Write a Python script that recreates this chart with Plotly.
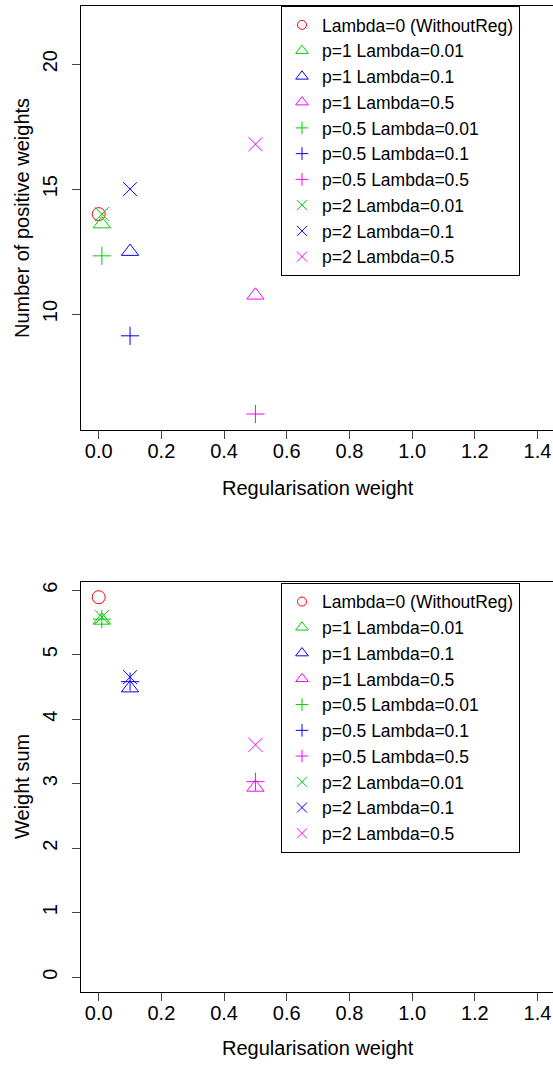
import plotly.graph_objects as go

# ---- data ----
labels = ["Lambda=0 (WithoutReg)", "p=1 Lambda=0.01", "p=1 Lambda=0.1", "p=1 Lambda=0.5",
          "p=0.5 Lambda=0.01", "p=0.5 Lambda=0.1", "p=0.5 Lambda=0.5",
          "p=2 Lambda=0.01", "p=2 Lambda=0.1", "p=2 Lambda=0.5"]
reg_weight = [0.0, 0.01, 0.1, 0.5, 0.01, 0.1, 0.5, 0.01, 0.1, 0.5]
n_positive = [14.0, 13.6, 12.5, 10.75, 12.33, 9.13, 6.0, 14.0, 15.0, 16.8]
weight_sum = [5.89, 5.53, 4.48, 2.94, 5.55, 4.58, 3.03, 5.58, 4.65, 3.60]
x_ticks = [0.0, 0.2, 0.4, 0.6, 0.8, 1.0, 1.2, 1.4]
y1_ticks = [10, 15, 20]
y2_ticks = [0, 1, 2, 3, 4, 5, 6]

# ---- style ----
colors = ["#FF0000", "#00CD00", "#0000FF", "#FF00FF", "#00CD00", "#0000FF", "#FF00FF",
          "#00CD00", "#0000FF", "#FF00FF"]
symbols = ["circle-open", "triangle-up-open", "triangle-up-open", "triangle-up-open",
           "cross-thin-open", "cross-thin-open", "cross-thin-open",
           "x-thin-open", "x-thin-open", "x-thin-open"]
size_plot = {"circle-open": 13, "triangle-up-open": 15, "cross-thin-open": 13, "x-thin-open": 14}
size_leg = {"circle-open": 9, "triangle-up-open": 11, "cross-thin-open": 9, "x-thin-open": 10}

W, H = 553, 1078
FONT = "Liberation Sans, Arial, sans-serif"

fig = go.Figure()
for panel, (vals, xa, ya, lg) in enumerate([(n_positive, "x", "y", "legend"),
                                            (weight_sum, "x2", "y2", "legend2")]):
    for i, lab in enumerate(labels):
        fig.add_trace(go.Scatter(
            x=[reg_weight[i]], y=[vals[i]], mode="markers", name=lab,
            xaxis=xa, yaxis=ya, showlegend=False,
            marker=dict(symbol=symbols[i], size=size_plot[symbols[i]], color=colors[i],
                        line=dict(color=colors[i], width=1))))
    for i, lab in enumerate(labels):
        fig.add_trace(go.Scatter(
            x=[None], y=[None], mode="markers", name=lab,
            xaxis=xa, yaxis=ya, showlegend=True, legend=lg,
            marker=dict(symbol=symbols[i], size=size_leg[symbols[i]], color=colors[i],
                        line=dict(color=colors[i], width=1))))


def px2fx(p):
    return p / W


def px2fy(p):
    return 1 - p / H


xdom = [px2fx(81), 1.0]
xrange = [-0.0565, 1.4494]
axis_common = dict(showline=True, linecolor="black", linewidth=1, ticks="outside",
                   ticklen=8, tickcolor="#444", tickwidth=1, showgrid=False, zeroline=False,
                   tickfont=dict(family=FONT, size=20, color="black"))

fig.update_layout(
    width=W, height=H,
    margin=dict(l=0, r=0, t=0, b=0, autoexpand=False),
    paper_bgcolor="white", plot_bgcolor="white",
    font=dict(family=FONT, size=20, color="black"),
    xaxis=dict(domain=xdom, range=xrange, anchor="y", tickvals=x_ticks,
               ticktext=[f"{v:.1f}" for v in x_ticks], mirror=True,
               ticklabelstandoff=-5, **axis_common),
    yaxis=dict(domain=[px2fy(430), px2fy(6)], range=[5.36, 22.33], anchor="x",
               tickvals=y1_ticks, tickangle=-90, mirror=False,
               ticklabelstandoff=7, **axis_common),
    xaxis2=dict(domain=xdom, range=xrange, anchor="y2", tickvals=x_ticks,
                ticktext=[f"{v:.1f}" for v in x_ticks], mirror=True,
                ticklabelstandoff=-5, **axis_common),
    yaxis2=dict(domain=[px2fy(992.3), px2fy(581.7)], range=[-0.236, 6.13], anchor="x2",
                tickvals=y2_ticks, tickangle=-90, mirror=False,
                ticklabelstandoff=7, **axis_common),
    legend=dict(x=px2fx(281), y=px2fy(6), xanchor="left", yanchor="top",
                bgcolor="white", bordercolor="black", borderwidth=1,
                font=dict(family=FONT, size=17.5, color="black"), itemsizing="trace"),
    legend2=dict(x=px2fx(281), y=px2fy(582.7), xanchor="left", yanchor="top",
                 bgcolor="white", bordercolor="black", borderwidth=1,
                 font=dict(family=FONT, size=17.5, color="black"), itemsizing="trace"),
    showlegend=True,
)

ann = dict(xref="paper", yref="paper", showarrow=False,
           font=dict(family=FONT, size=20, color="black"))
fig.add_annotation(text="Regularisation weight", x=px2fx(318), y=px2fy(488),
                   xanchor="center", yanchor="middle", **ann)
fig.add_annotation(text="Regularisation weight", x=px2fx(318), y=px2fy(1048),
                   xanchor="center", yanchor="middle", **ann)
fig.add_annotation(text="Number of positive weights", x=px2fx(22), y=px2fy(218),
                   xanchor="center", yanchor="middle", textangle=-90, **ann)
fig.add_annotation(text="Weight sum", x=px2fx(22), y=px2fy(787),
                   xanchor="center", yanchor="middle", textangle=-90, **ann)

fig.write_html("out.html")
